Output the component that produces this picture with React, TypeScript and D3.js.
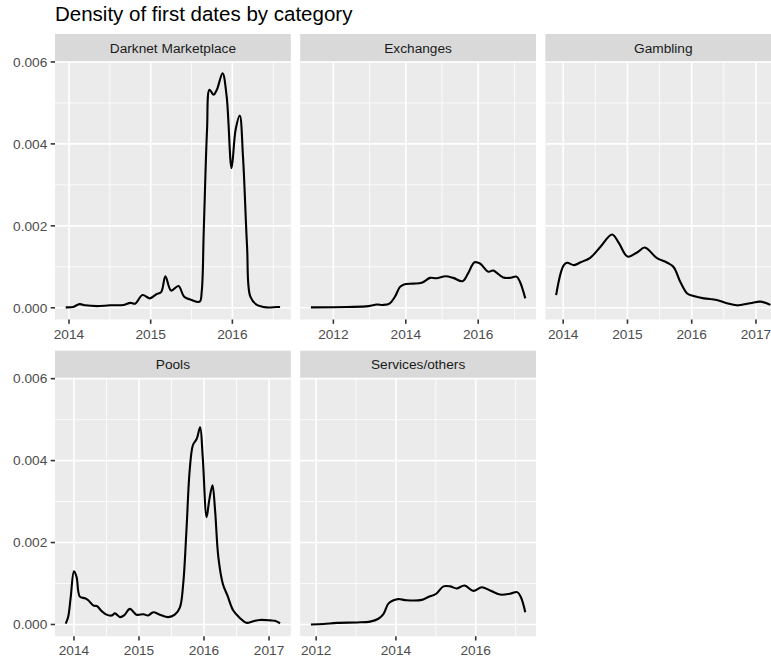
import React from "react";
import * as d3 from "d3";

const title = "Density of first dates by category";
const categories = ["Darknet Marketplace", "Exchanges", "Gambling", "Pools", "Services/others"];

// [year (decimal), density]
const darknet: [number, number][] = [
  [2013.96, 0.00001], [2014.05, 0.00002], [2014.13, 0.00009], [2014.2, 0.00006], [2014.34, 0.00004],
  [2014.5, 0.00006], [2014.67, 0.00007], [2014.75, 0.00012], [2014.81, 0.0001], [2014.9, 0.00031],
  [2014.99, 0.00023], [2015.07, 0.00033], [2015.13, 0.00039], [2015.18, 0.00077], [2015.25, 0.00042],
  [2015.34, 0.00053], [2015.41, 0.00027], [2015.5, 0.00019], [2015.6, 0.00015], [2015.625, 0.0004],
  [2015.65, 0.0019], [2015.69, 0.00435], [2015.72, 0.00532], [2015.77, 0.0052], [2015.81, 0.00532],
  [2015.88, 0.00572], [2015.93, 0.00516], [2015.99, 0.00341], [2016.04, 0.00435], [2016.09, 0.00469],
  [2016.13, 0.00369], [2016.18, 0.00149], [2016.22, 0.00027], [2016.3, 0.00007], [2016.42, 0.00001],
  [2016.54, 0.00002], [2016.584, 0.00002],
];

const exchanges: [number, number][] = [
  [2011.38, 0.00001], [2012.37, 0.00002], [2012.97, 0.00004], [2013.2, 0.00008], [2013.38, 0.00007],
  [2013.56, 0.00011], [2013.7, 0.00027], [2013.84, 0.00051], [2013.95, 0.00057], [2014.2, 0.00059],
  [2014.44, 0.00061], [2014.67, 0.00073], [2014.85, 0.00072], [2015.1, 0.00077], [2015.31, 0.00073],
  [2015.57, 0.00065], [2015.72, 0.00084], [2015.9, 0.00111], [2016.05, 0.00108], [2016.28, 0.00088],
  [2016.41, 0.00091], [2016.69, 0.00074], [2016.87, 0.00073], [2017.06, 0.00076], [2017.15, 0.00064],
  [2017.3, 0.00023],
];

const gambling: [number, number][] = [
  [2013.89, 0.00031], [2013.96, 0.00084], [2014.01, 0.00104], [2014.06, 0.0011], [2014.17, 0.00104],
  [2014.27, 0.00111], [2014.42, 0.00122], [2014.58, 0.00149], [2014.76, 0.00179], [2014.87, 0.00157],
  [2015.0, 0.00125], [2015.15, 0.00135], [2015.27, 0.00147], [2015.46, 0.00121], [2015.62, 0.0011],
  [2015.72, 0.00099], [2015.82, 0.00064], [2015.93, 0.00035], [2016.03, 0.00029], [2016.19, 0.00023],
  [2016.39, 0.00019], [2016.55, 0.00011], [2016.7, 0.00006], [2016.91, 0.00011], [2017.07, 0.00015],
  [2017.226, 0.00007],
];

const pools: [number, number][] = [
  [2013.873, 0.00002], [2013.91, 0.00018], [2013.95, 0.00067], [2014.0, 0.0013], [2014.04, 0.00116],
  [2014.09, 0.00068], [2014.17, 0.00064], [2014.22, 0.00059], [2014.3, 0.00046], [2014.35, 0.00045],
  [2014.43, 0.00032], [2014.5, 0.00024], [2014.58, 0.00022], [2014.63, 0.00027], [2014.71, 0.00018],
  [2014.77, 0.00022], [2014.86, 0.00038], [2014.96, 0.00024], [2015.07, 0.00025], [2015.14, 0.00022],
  [2015.22, 0.0003], [2015.32, 0.00024], [2015.45, 0.00018], [2015.55, 0.00024], [2015.63, 0.00042],
  [2015.68, 0.00099], [2015.73, 0.0023], [2015.78, 0.00377], [2015.83, 0.00438], [2015.89, 0.00454],
  [2015.94, 0.00481], [2015.98, 0.00409], [2016.04, 0.00262], [2016.08, 0.00303], [2016.13, 0.0034],
  [2016.17, 0.00279], [2016.22, 0.00165], [2016.29, 0.00099], [2016.36, 0.00071], [2016.45, 0.00034],
  [2016.55, 0.00016], [2016.65, 0.00004], [2016.76, 0.00008], [2016.86, 0.00011], [2017.02, 0.0001],
  [2017.09, 0.00009], [2017.17, 0.00003],
];

const services: [number, number][] = [
  [2011.869, 0.0], [2012.18, 0.00001], [2012.52, 0.00004], [2013.02, 0.00005], [2013.35, 0.00007],
  [2013.56, 0.00014], [2013.69, 0.00026], [2013.81, 0.00051], [2013.94, 0.00059], [2014.06, 0.00062],
  [2014.27, 0.00059], [2014.65, 0.0006], [2014.81, 0.00067], [2015.01, 0.00075], [2015.19, 0.00093],
  [2015.36, 0.00093], [2015.52, 0.00088], [2015.72, 0.00095], [2015.94, 0.00082], [2016.15, 0.00091],
  [2016.36, 0.00083], [2016.61, 0.00073], [2016.86, 0.00075], [2017.04, 0.00079], [2017.13, 0.00067],
  [2017.242, 0.0003],
];

const seriesList = [darknet, exchanges, gambling, pools, services];

const xBreaks: number[][] = [
  [2014, 2015, 2016],
  [2012, 2014, 2016],
  [2014, 2015, 2016, 2017],
  [2014, 2015, 2016, 2017],
  [2012, 2014, 2016],
];
const yBreaks = [0, 0.002, 0.004, 0.006];
const yMinorBreaks = [0.001, 0.003, 0.005];

const W = 771;
const H = 661;
const colLeft = [55, 300.2, 545.4];
const panelW = 235.8;
const stripTop = [34, 350.7];
const stripH = 27.7;
const panelH = 257.8;
const FONT = "'Liberation Sans', Arial, Helvetica, sans-serif";

function minorBreaks(breaks: number[], dom: [number, number]) {
  const step = breaks[1] - breaks[0];
  const out: number[] = [];
  for (let v = breaks[0] - step / 2; v <= dom[1]; v += step) {
    if (v >= dom[0] && !breaks.includes(v)) out.push(v);
  }
  return out;
}

export default function App() {
  const yMax = d3.max(seriesList.flat(), (d) => d[1]) as number;
  const yDom: [number, number] = [-0.05 * yMax, 1.05 * yMax];

  return (
    <svg
      width={W}
      height={H}
      style={{ position: "absolute", left: 0, top: 0, background: "#fff", fontFamily: FONT }}
    >
      <rect x={0} y={0} width={W} height={H} fill="#fff" />
      <text x={55} y={21} fontSize={20.5} fill="#000">
        {title}
      </text>
      {categories.map((cat, i) => {
        const row = Math.floor(i / 3);
        const col = i % 3;
        const left = colLeft[col];
        const sTop = stripTop[row];
        const pTop = sTop + stripH;
        const pBot = pTop + panelH;
        const data = seriesList[i];
        const ext = d3.extent(data, (d) => d[0]) as [number, number];
        const span = ext[1] - ext[0];
        const xDom: [number, number] = [ext[0] - 0.05 * span, ext[1] + 0.05 * span];
        const x = d3.scaleLinear().domain(xDom).range([left, left + panelW]);
        const y = d3.scaleLinear().domain(yDom).range([pBot, pTop]);
        const line = d3
          .line<[number, number]>()
          .x((d) => x(d[0]))
          .y((d) => y(d[1]))
          .curve(d3.curveCatmullRom.alpha(0.5));
        const xb = xBreaks[i];
        const xm = minorBreaks(xb, xDom);
        return (
          <g key={cat}>
            <rect x={left} y={sTop} width={panelW} height={stripH} fill="#D9D9D9" />
            <text
              x={left + panelW / 2}
              y={sTop + stripH / 2 + 4.9}
              textAnchor="middle"
              fontSize={13.7}
              fill="#1A1A1A"
            >
              {cat}
            </text>
            <rect x={left} y={pTop} width={panelW} height={panelH} fill="#EBEBEB" />
            {yMinorBreaks.map((v) => (
              <line key={"ym" + v} x1={left} x2={left + panelW} y1={y(v)} y2={y(v)} stroke="#fff" strokeWidth={0.8} />
            ))}
            {xm.map((v) => (
              <line key={"xm" + v} x1={x(v)} x2={x(v)} y1={pTop} y2={pBot} stroke="#fff" strokeWidth={0.8} />
            ))}
            {yBreaks.map((v) => (
              <line key={"yM" + v} x1={left} x2={left + panelW} y1={y(v)} y2={y(v)} stroke="#fff" strokeWidth={1.6} />
            ))}
            {xb.map((v) => (
              <line key={"xM" + v} x1={x(v)} x2={x(v)} y1={pTop} y2={pBot} stroke="#fff" strokeWidth={1.6} />
            ))}
            <path d={line(data) || ""} fill="none" stroke="#000" strokeWidth={2.1} strokeLinejoin="round" />
            {xb.map((v) => (
              <g key={"xt" + v}>
                <line x1={x(v)} x2={x(v)} y1={pBot} y2={pBot + 4.3} stroke="#333" strokeWidth={1.6} />
                <text x={x(v)} y={pBot + 19} textAnchor="middle" fontSize={13.7} fill="#4D4D4D">
                  {String(v)}
                </text>
              </g>
            ))}
            {col === 0 &&
              yBreaks.map((v) => (
                <g key={"yt" + v}>
                  <line x1={left - 4.3} x2={left} y1={y(v)} y2={y(v)} stroke="#333" strokeWidth={1.6} />
                  <text x={left - 7.7} y={y(v) + 4.8} textAnchor="end" fontSize={13.7} fill="#4D4D4D">
                    {d3.format(".3f")(v)}
                  </text>
                </g>
              ))}
          </g>
        );
      })}
    </svg>
  );
}
